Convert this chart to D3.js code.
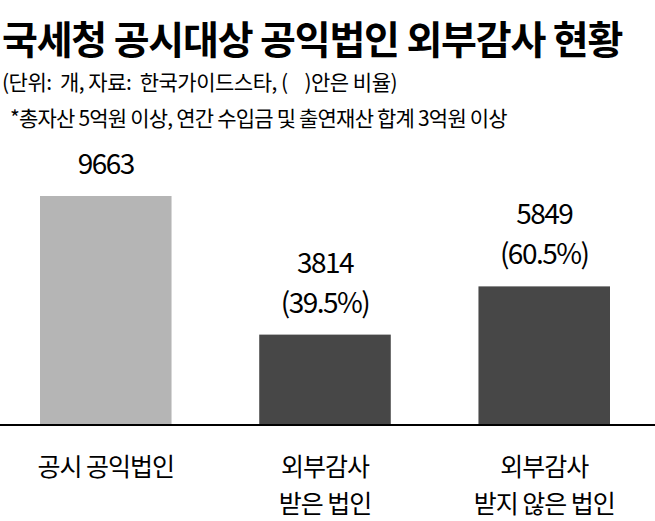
<!DOCTYPE html>
<html><head><meta charset="utf-8">
<script src="https://cdn.jsdelivr.net/npm/d3@7"></script>
<style>body{margin:0;background:#fff}</style>
</head><body>
<svg id="chart" width="655" height="521"></svg>
<script>
const categories = [["공시 공익법인"], ["외부감사", "받은 법인"], ["외부감사", "받지 않은 법인"]]
const values = [9663, 3814, 5849]
const shares = [null, "(39.5%)", "(60.5%)"]
const colors = ["#b5b5b5", "#474747", "#474747"]

const svg = d3.select("#chart")
const font = "'Noto Sans CJK KR', sans-serif"

svg.append("text").attr("x", 2).attr("y", 54)
    .style("font-family", font).style("font-weight", 700).style("font-size", "39px")
    .style("letter-spacing", "-1.2px").text("국세청 공시대상 공익법인 외부감사 현황")
svg.append("text").attr("x", 2).attr("y", 90)
    .style("font-family", font).style("font-size", "21px").style("letter-spacing", "-0.5px")
    .attr("xml:space", "preserve")
    .text("(단위:  개, 자료:  한국가이드스타, (    )안은 비율)")
svg.append("text").attr("x", 10).attr("y", 126)
    .style("font-family", font).style("font-size", "21px").style("letter-spacing", "-0.8px")
    .text("*총자산 5억원 이상, 연간 수입금 및 출연재산 합계 3억원 이상")

const base = 425
const x = d3.scaleBand().domain(d3.range(3)).range([40, 610]).paddingInner(0.4).paddingOuter(0)
const y = d3.scaleLinear().domain([0, 9663]).range([base, 196])

svg.selectAll(".bar").data(values).enter().append("rect")
    .attr("x", (d, i) => x(i)).attr("width", x.bandwidth())
    .attr("y", d => y(d)).attr("height", d => base - y(d))
    .attr("fill", (d, i) => colors[i])

svg.append("line").attr("x1", 0).attr("x2", 655).attr("y1", base).attr("y2", base)
    .attr("stroke", "#000").attr("stroke-width", 2)

values.forEach((v, i) => {
    const cx = x(i) + x.bandwidth() / 2
    const top = y(v)
    const lines = shares[i] ? [String(v), shares[i]] : [String(v)]
    lines.forEach((t, j) => {
        svg.append("text").attr("x", cx).attr("y", top - 22 - (lines.length - 1 - j) * 40)
            .attr("text-anchor", "middle")
            .style("font-family", font).style("font-size", "28px").style("letter-spacing", "-1.5px")
            .text(t)
    })
    categories[i].forEach((t, j) => {
        svg.append("text").attr("x", cx).attr("y", 476 + j * 37)
            .attr("text-anchor", "middle")
            .style("font-family", font).style("font-size", "25px").style("letter-spacing", "-1px")
            .text(t)
    })
})
</script>
</body></html>
